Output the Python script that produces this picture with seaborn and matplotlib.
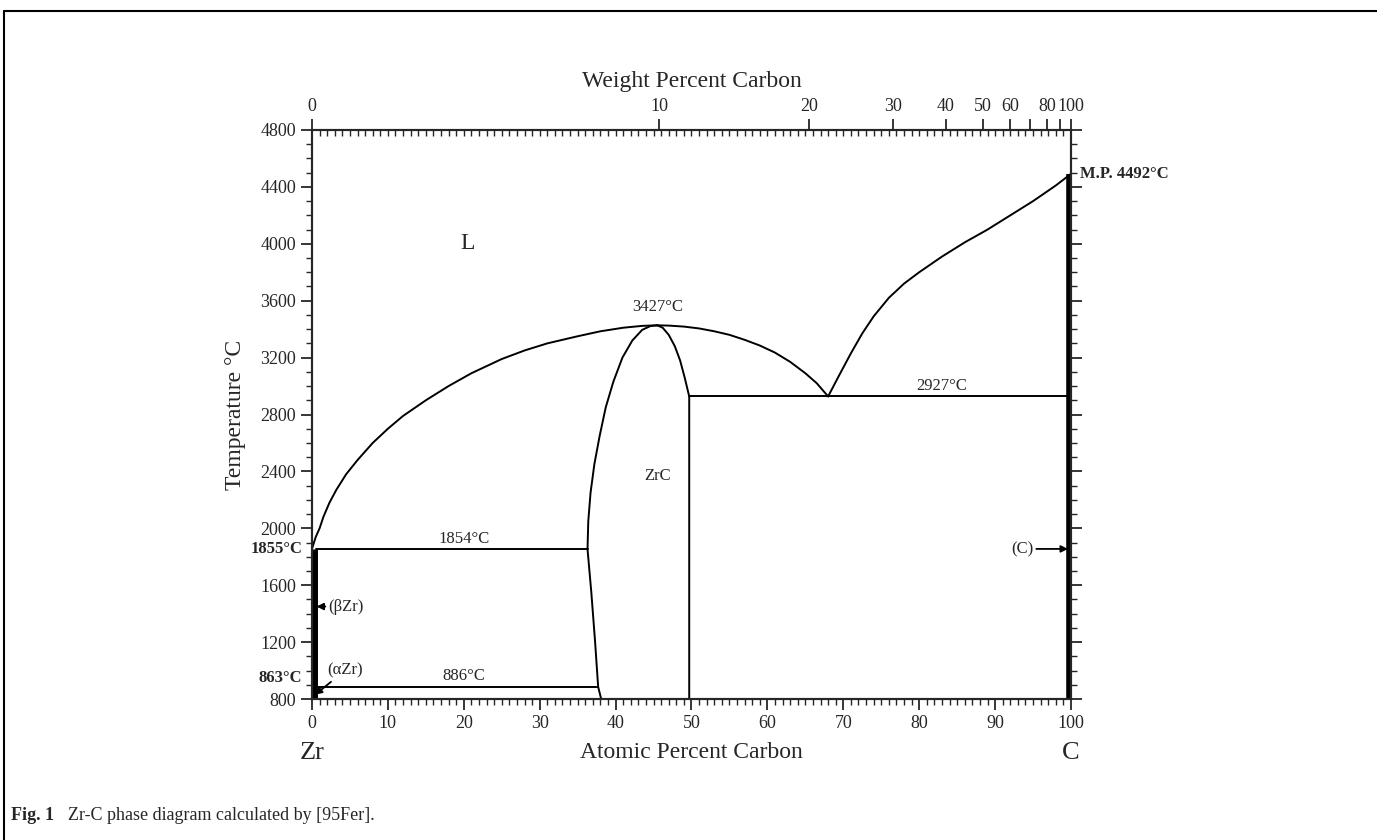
import numpy as np
import pandas as pd
import seaborn as sns
import matplotlib.pyplot as plt

# phase boundaries (atomic % C, temperature C)
liq_zr_x = [0, 0.2, 0.5, 1, 1.5, 2.3, 3.2, 4.5, 6, 8, 10, 12, 15, 18, 21, 25,
            28, 31, 35, 38, 41, 43.5, 45.5]
liq_zr_t = [1855, 1890, 1940, 2000, 2080, 2180, 2270, 2380, 2480, 2600, 2700,
            2790, 2900, 3000, 3090, 3190, 3250, 3300, 3350, 3385, 3410, 3423, 3427]

liq_zrc_x = [45.5, 47, 49, 51, 53, 55, 57, 59, 61, 63, 65, 66.5, 68]
liq_zrc_t = [3427, 3425, 3418, 3405, 3385, 3360, 3325, 3285, 3235, 3170, 3090,
             3020, 2927]

liq_c_x = [68, 69.5, 71, 72.5, 74, 76, 78, 80, 83, 86, 89, 92, 95, 98, 100]
liq_c_t = [2927, 3080, 3230, 3370, 3490, 3620, 3720, 3800, 3910, 4010, 4100,
           4200, 4300, 4410, 4492]

zrc_left_x = [38.1, 37.7, 37.3, 36.8, 36.3, 36.4, 36.7, 37.2, 37.9, 38.7, 39.7,
              40.9, 42.2, 43.5, 44.6, 45.5]
zrc_left_t = [800, 886, 1200, 1550, 1854, 2050, 2250, 2450, 2650, 2850, 3030,
              3200, 3320, 3395, 3422, 3427]

zrc_right_x = [45.5, 46.2, 47.0, 47.8, 48.5, 49.1, 49.7, 49.7]
zrc_right_t = [3427, 3410, 3360, 3280, 3180, 3060, 2927, 800]

iso_t = [1854, 886, 2927]
iso_x0 = [0.5, 0.5, 49.7]
iso_x1 = [36.3, 37.7, 100]

wt_major = [0, 10, 20, 30, 40, 50, 60, 70, 80, 90, 100]
wt_labels = ['0', '10', '20', '30', '40', '50', '60', '', '80', '', '100']


def wt_to_at(w):
    w = np.asarray(w, dtype=float)
    c = w / 12.011
    z = (100 - w) / 91.224
    return 100 * c / (c + z)


sns.set_style('ticks')
plt.rcParams['font.family'] = ['Liberation Serif', 'DejaVu Serif']

W, H = 1377, 840
fig = plt.figure(figsize=(W / 100, H / 100), dpi=100)
ax = fig.add_axes([312 / W, 1 - 699 / H, (1071 - 312) / W, (699 - 130) / H])

curves = [(liq_zr_x, liq_zr_t), (liq_zrc_x, liq_zrc_t), (liq_c_x, liq_c_t),
          (zrc_left_x, zrc_left_t), (zrc_right_x, zrc_right_t)]
for xs, ts in curves:
    d = pd.DataFrame({'x': xs, 't': ts})
    sns.lineplot(data=d, x='x', y='t', sort=False, estimator=None,
                 color='black', lw=1.4, ax=ax)
for t, a, b in zip(iso_t, iso_x0, iso_x1):
    ax.plot([a, b], [t, t], color='black', lw=1.4)

# solid solutions along the edges
ax.plot([0.25, 0.25], [800, 1855], color='black', lw=5, solid_capstyle='butt')
ax.plot([99.8, 99.8], [800, 4492], color='black', lw=4, solid_capstyle='butt')

ax.set_xlim(0, 100)
ax.set_ylim(800, 4800)
ax.set_xticks(range(0, 101, 10))
ax.set_xticks(range(0, 101, 1), minor=True)
ax.set_yticks(range(800, 4801, 400))
ax.set_yticks(range(800, 4801, 100), minor=True)
ax.tick_params(which='major', direction='out', length=8, width=1.3, labelsize=13)
ax.tick_params(which='minor', direction='out', length=4, width=1)
ax.tick_params(axis='y', which='both', right=True, labelright=False)
for s in ax.spines.values():
    s.set_linewidth(1.5)
ax.set_xlabel('')
ax.set_ylabel('Temperature °C', fontsize=17, labelpad=10)

# weight percent scale on top
top = ax.twiny()
top.set_xlim(0, 100)
top.set_xticks(wt_to_at(wt_major))
top.set_xticklabels(wt_labels)
top.set_xticks(range(0, 101, 1), minor=True)
top.tick_params(which='major', direction='out', length=8, width=1.3, labelsize=13, pad=3)
top.tick_params(which='minor', direction='in', length=4, width=1)
top.set_xlabel('Weight Percent Carbon', fontsize=17, labelpad=8)
for s in top.spines.values():
    s.set_linewidth(1.5)

# labels inside the diagram
ax.text(20.5, 4000, 'L', fontsize=17, ha='center', va='center')
ax.text(45.5, 3500, '3427°C', fontsize=12, ha='center', va='bottom')
ax.text(45.5, 2370, 'ZrC', fontsize=12, ha='center', va='center')
ax.text(83, 2945, '2927°C', fontsize=12, ha='center', va='bottom')
ax.text(20, 1872, '1854°C', fontsize=12, ha='center', va='bottom')
ax.text(20, 904, '886°C', fontsize=12, ha='center', va='bottom')
arrow = dict(arrowstyle='-|>', color='black', lw=1.3, shrinkA=0, shrinkB=0,
             mutation_scale=10)
ax.annotate('(C)', xy=(99.6, 1855), xytext=(95, 1855), fontsize=12,
            ha='right', va='center', arrowprops=arrow)
ax.annotate('(βZr)', xy=(0.6, 1450), xytext=(2.2, 1450), fontsize=12,
            ha='left', va='center', arrowprops=arrow)
ax.annotate('(αZr)', xy=(0.4, 830), xytext=(2.0, 1000), fontsize=12,
            ha='left', va='center', arrowprops=arrow)
ax.text(101.2, 4492, 'M.P. 4492°C', fontsize=12, fontweight='bold',
        ha='left', va='center')
ax.text(-1.3, 1855, '1855°C', fontsize=12, fontweight='bold',
        ha='right', va='center')
ax.text(-1.3, 945, '863°C', fontsize=12, fontweight='bold',
        ha='right', va='center')

# bottom axis titles
fig.text(312 / W, 1 - 753 / H, 'Zr', fontsize=19, ha='center', va='center')
fig.text((312 + 1071) / 2 / W, 1 - 753 / H, 'Atomic Percent Carbon',
         fontsize=17, ha='center', va='center')
fig.text(1071 / W, 1 - 753 / H, 'C', fontsize=19, ha='center', va='center')

# caption and frame
fig.text(11 / W, 1 - 815 / H, 'Fig. 1', fontsize=13, fontweight='bold',
         ha='left', va='center')
fig.text(68 / W, 1 - 815 / H, 'Zr-C phase diagram calculated by [95Fer].',
         fontsize=13, ha='left', va='center')
fig.add_artist(plt.Line2D([4 / W, 4 / W], [0, 1 - 11 / H], color='black', lw=1.5))
fig.add_artist(plt.Line2D([4 / W, 1], [1 - 11 / H, 1 - 11 / H], color='black', lw=1.5))

fig.savefig('out.png', dpi=100)
